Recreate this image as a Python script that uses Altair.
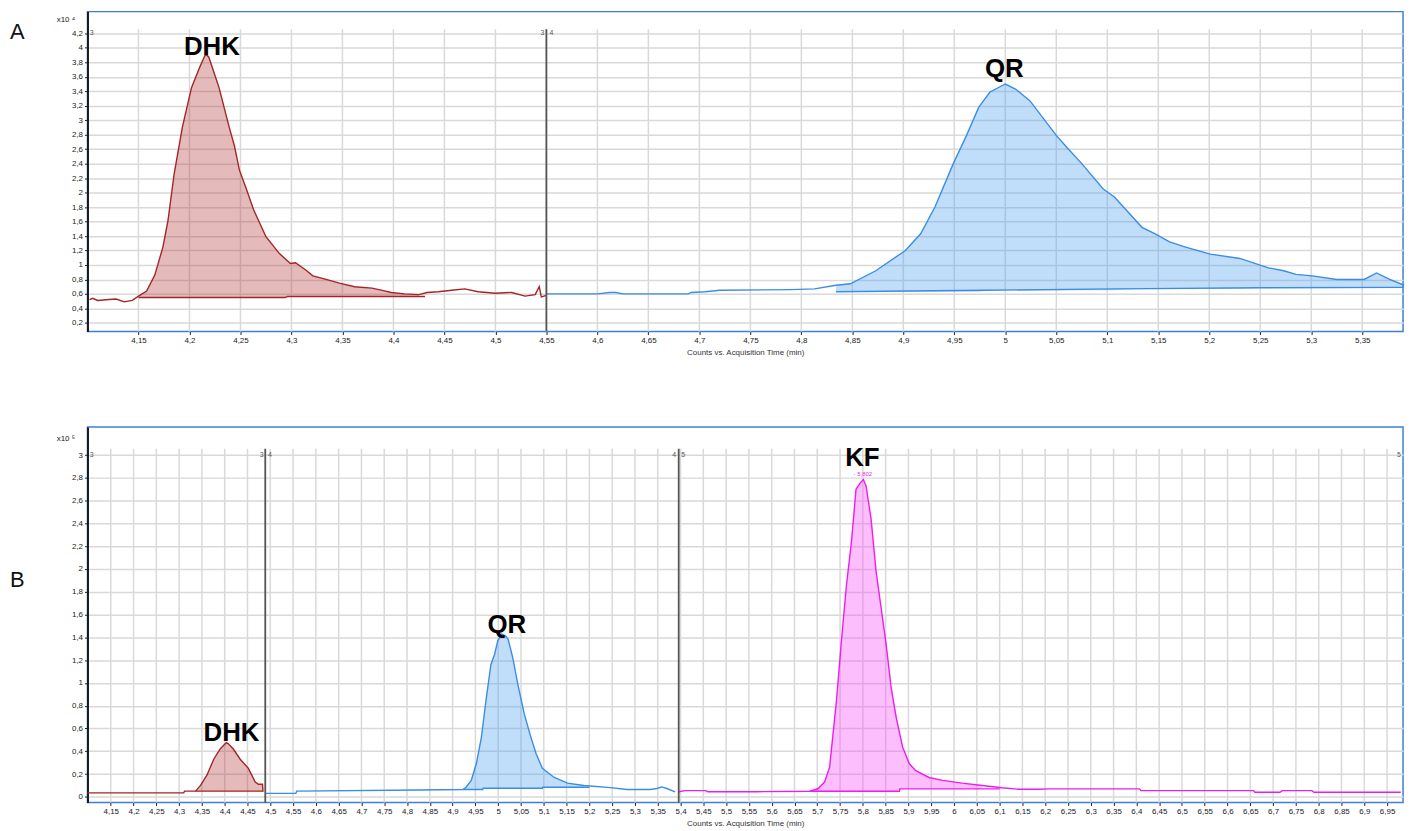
import altair as alt
import pandas as pd

# ---------------- Panel A ----------------
A_DHK_T = [4.102, 4.105, 4.110, 4.118, 4.128, 4.136, 4.144, 4.150, 4.158, 4.166, 4.174, 4.179, 4.185, 4.193,
           4.202, 4.210, 4.215, 4.217, 4.219, 4.229, 4.239, 4.244, 4.249, 4.255, 4.263, 4.275, 4.288, 4.299,
           4.304, 4.314, 4.321, 4.334, 4.347, 4.362, 4.379, 4.389, 4.398, 4.411, 4.425, 4.433, 4.444, 4.457,
           4.470, 4.483, 4.500, 4.516, 4.529, 4.539, 4.543, 4.545, 4.550]
A_DHK_V = [0.52, 0.54, 0.51, 0.52, 0.53, 0.49, 0.51, 0.57, 0.64, 0.86, 1.25, 1.62, 2.26, 2.90,
           3.45, 3.73, 3.89, 3.90, 3.87, 3.45, 2.90, 2.65, 2.31, 2.08, 1.76, 1.39, 1.16, 1.02,
           1.03, 0.93, 0.85, 0.80, 0.75, 0.70, 0.68, 0.65, 0.62, 0.60, 0.59, 0.62, 0.63, 0.65,
           0.67, 0.63, 0.61, 0.62, 0.57, 0.59, 0.70, 0.56, 0.58]
A_DHK_BASE_T = [4.150, 4.294, 4.296, 4.431]
A_DHK_BASE_V = [0.55, 0.55, 0.565, 0.565]

A_QR_T = [4.550, 4.600, 4.612, 4.618, 4.625, 4.689, 4.692, 4.706, 4.720, 4.790, 4.813, 4.834, 4.848,
          4.873, 4.902, 4.917, 4.931, 4.949, 4.962, 4.974, 4.985, 5.000, 5.010, 5.024, 5.050, 5.060,
          5.075, 5.096, 5.107, 5.134, 5.147, 5.161, 5.176, 5.201, 5.230, 5.258, 5.273, 5.285, 5.301,
          5.325, 5.352, 5.364, 5.377, 5.391]
A_QR_V = [0.60, 0.60, 0.62, 0.62, 0.60, 0.60, 0.62, 0.63, 0.65, 0.66, 0.67, 0.72, 0.74,
          0.92, 1.20, 1.43, 1.80, 2.40, 2.79, 3.18, 3.39, 3.50, 3.43, 3.27, 2.79, 2.63,
          2.40, 2.05, 1.94, 1.52, 1.43, 1.32, 1.25, 1.15, 1.09, 0.96, 0.92, 0.87, 0.85,
          0.80, 0.80, 0.89, 0.80, 0.72]
A_QR_BASE_T = [4.834, 4.978, 5.110, 5.250, 5.391]
A_QR_BASE_V = [0.63, 0.65, 0.67, 0.685, 0.69]

A_X_TICKS = [4.15, 4.2, 4.25, 4.3, 4.35, 4.4, 4.45, 4.5, 4.55, 4.6, 4.65, 4.7, 4.75, 4.8, 4.85,
             4.9, 4.95, 5.0, 5.05, 5.1, 5.15, 5.2, 5.25, 5.3, 5.35]
A_Y_TICKS = [0.2, 0.4, 0.6, 0.8, 1.0, 1.2, 1.4, 1.6, 1.8, 2.0, 2.2, 2.4, 2.6, 2.8, 3.0, 3.2, 3.4,
             3.6, 3.8, 4.0, 4.2]
A_PEAK_LABELS = ["DHK", "QR"]
A_PEAK_T = [4.222, 4.999]
A_PEAK_V = [4.01, 3.705]
A_SEG_LABELS = ["3", "3", "4"]
A_SEG_T = [4.104, 4.546, 4.555]
A_DIVIDERS = [4.55]

# ---------------- Panel B ----------------
B_DHK_T = [4.099, 4.310, 4.312, 4.336, 4.347, 4.361, 4.376, 4.390, 4.401, 4.404, 4.408, 4.419, 4.434,
           4.452, 4.467, 4.474, 4.483, 4.484]
B_DHK_V = [0.035, 0.035, 0.05, 0.05, 0.10, 0.19, 0.33, 0.42, 0.465, 0.475, 0.465, 0.42, 0.33,
           0.25, 0.13, 0.11, 0.11, 0.045]
B_DHK_BASE_T = [4.336, 4.484]
B_DHK_BASE_V = [0.05, 0.05]

B_QR_T = [4.490, 4.556, 4.558, 4.825, 4.923, 4.930, 4.941, 4.952, 4.963, 4.974, 4.984, 4.992, 4.999,
          5.008, 5.017, 5.022, 5.032, 5.043, 5.057, 5.072, 5.083, 5.097, 5.123, 5.152, 5.188, 5.246,
          5.282, 5.333, 5.348, 5.359, 5.370, 5.388]
B_QR_V = [0.03, 0.03, 0.05, 0.06, 0.064, 0.087, 0.145, 0.29, 0.52, 0.87, 1.16, 1.25, 1.37,
          1.43, 1.41, 1.38, 1.22, 0.99, 0.73, 0.52, 0.38, 0.25, 0.17, 0.12, 0.10, 0.081,
          0.064, 0.064, 0.073, 0.087, 0.073, 0.044]
B_QR_BASE_T = [4.923, 4.966, 4.967, 5.097, 5.098, 5.200]
B_QR_BASE_V = [0.064, 0.064, 0.076, 0.076, 0.084, 0.084]

B_KF_T = [5.396, 5.410, 5.455, 5.460, 5.567, 5.684, 5.702, 5.716, 5.727, 5.742, 5.753, 5.764, 5.775,
          5.785, 5.793, 5.801, 5.807, 5.818, 5.829, 5.840, 5.851, 5.862, 5.873, 5.887, 5.902, 5.916,
          5.945, 5.975, 6.018, 6.062, 6.105, 6.142, 6.185, 6.210, 6.407, 6.410, 6.657, 6.660, 6.715,
          6.720, 6.785, 6.790, 6.980]
B_KF_V = [0.045, 0.055, 0.055, 0.045, 0.045, 0.049, 0.073, 0.13, 0.26, 0.84, 1.37, 1.86, 2.24,
          2.70, 2.75, 2.785, 2.73, 2.44, 1.98, 1.66, 1.34, 0.96, 0.70, 0.44, 0.29, 0.23,
          0.17, 0.145, 0.12, 0.10, 0.08, 0.067, 0.067, 0.07, 0.07, 0.055, 0.055, 0.04, 0.04,
          0.055, 0.055, 0.04, 0.04]
B_KF_BASE_T = [5.684, 5.880, 5.881, 6.100]
B_KF_BASE_V = [0.049, 0.049, 0.07, 0.07]

B_X_TICKS = [4.15, 4.2, 4.25, 4.3, 4.35, 4.4, 4.45, 4.5, 4.55, 4.6, 4.65, 4.7, 4.75, 4.8, 4.85,
             4.9, 4.95, 5.0, 5.05, 5.1, 5.15, 5.2, 5.25, 5.3, 5.35, 5.4, 5.45, 5.5, 5.55, 5.6,
             5.65, 5.7, 5.75, 5.8, 5.85, 5.9, 5.95, 6.0, 6.05, 6.1, 6.15, 6.2, 6.25, 6.3, 6.35,
             6.4, 6.45, 6.5, 6.55, 6.6, 6.65, 6.7, 6.75, 6.8, 6.85, 6.9, 6.95]
B_Y_TICKS = [0.0, 0.2, 0.4, 0.6, 0.8, 1.0, 1.2, 1.4, 1.6, 1.8, 2.0, 2.2, 2.4, 2.6, 2.8, 3.0]
B_PEAK_LABELS = ["DHK", "QR", "KF"]
B_PEAK_T = [4.415, 5.019, 5.799]
B_PEAK_V = [0.56, 1.51, 2.97]
B_SEG_LABELS = ["3", "3", "4", "4", "5", "5"]
B_SEG_T = [4.108, 4.481, 4.499, 5.386, 5.406, 6.976]
B_DIVIDERS = [4.489, 5.396]

LINE_COLORS = {"DHK": "#a32526", "QR": "#3a8de4", "KF": "#ee1cee"}
FILL_COLORS = {"DHK": "#b53a3a", "QR": "#4aa0ee", "KF": "#f545f5"}

LABEL_EXPR = "replace(format(datum.value, '.2~f'), '.', ',')"
TICK_FONT = "Liberation Sans"


def step_level(bt, bv, t):
    lvl = bv[0]
    for a, b in zip(bt, bv):
        if a <= t:
            lvl = b
    return lvl


def panel(traces, xdom, ydom, xticks, yticks, grid_top, dividers, seg_labels, seg_t, seg_v,
          peak_labels, peak_t, peak_v, letter, letter_y, exp_text, exp_y, height, extra=None):
    xs = alt.Scale(domain=xdom, nice=False, zero=False)
    ys = alt.Scale(domain=ydom, nice=False, zero=False)
    xaxis = alt.Axis(values=xticks, tickCount=200, labelExpr=LABEL_EXPR,
                     title="Counts vs. Acquisition Time (min)",
                     grid=False, domain=False, tickColor="#222", tickSize=3, labelFontSize=8,
                     labelFont=TICK_FONT, labelColor="#222", labelPadding=2, labelOverlap=False,
                     labelFlush=False, titleFontSize=8, titleFontWeight="normal", titleFont=TICK_FONT,
                     titleColor="#333", titlePadding=4)
    yaxis = alt.Axis(values=yticks, tickCount=200, labelExpr=LABEL_EXPR, title=None, grid=True,
                     gridColor="#d9d9d9", gridWidth=1.5, domain=True, domainColor="#1a1a1a",
                     domainWidth=2, tickColor="#222", tickSize=3, labelFontSize=8, labelFont=TICK_FONT,
                     labelColor="#222", labelPadding=2, labelOverlap=False)

    layers = [
        alt.Chart(pd.DataFrame({"t": xticks})).mark_rule(color="#d9d9d9", strokeWidth=1.5).encode(
            x=alt.X("t:Q", scale=xs, axis=xaxis),
            y=alt.Y(datum=ydom[0], type="quantitative", scale=ys, axis=yaxis),
            y2=alt.datum(grid_top),
        )
    ]
    lines = []
    for name, ts, vs, bt, bv in traces:
        lo, hi = bt[0], bt[-1]
        ar = pd.DataFrame([{"t": t, "v": v, "base": step_level(bt, bv, t)}
                           for t, v in zip(ts, vs) if lo <= t <= hi])
        layers.append(alt.Chart(ar).mark_area(color=FILL_COLORS[name], opacity=0.35).encode(
            x=alt.X("t:Q", scale=xs),
            y=alt.Y("v:Q", scale=ys),
            y2=alt.Y2("base:Q"),
        ))
        lines.append(alt.Chart(pd.DataFrame({"t": ts, "v": vs})).mark_line(
            color=LINE_COLORS[name], strokeWidth=1.4).encode(
            x=alt.X("t:Q", scale=xs), y=alt.Y("v:Q", scale=ys)))
        lines.append(alt.Chart(pd.DataFrame({"t": bt, "v": bv})).mark_line(
            color=LINE_COLORS[name], strokeWidth=1.4).encode(
            x=alt.X("t:Q", scale=xs), y=alt.Y("v:Q", scale=ys)))
    layers += lines

    layers.append(alt.Chart(pd.DataFrame({"t": dividers})).mark_rule(color="#555555", strokeWidth=1.8).encode(
        x=alt.X("t:Q", scale=xs),
        y=alt.datum(ydom[0]),
        y2=alt.datum(grid_top),
    ))
    layers.append(alt.Chart(pd.DataFrame({"t": seg_t, "v": [seg_v] * len(seg_t), "s": seg_labels})).mark_text(
        fontSize=7, color="#555", font=TICK_FONT).encode(
        x=alt.X("t:Q", scale=xs), y=alt.Y("v:Q", scale=ys), text="s:N"))
    layers.append(alt.Chart(pd.DataFrame({"t": peak_t, "v": peak_v, "s": peak_labels})).mark_text(
        fontSize=26, fontWeight="bold", font="Liberation Sans", color="#000").encode(
        x=alt.X("t:Q", scale=xs), y=alt.Y("v:Q", scale=ys), text="s:N"))
    layers.append(alt.Chart(pd.DataFrame({"s": [letter]})).mark_text(
        align="left", baseline="middle", fontSize=22, font="Liberation Sans", color="#111").encode(
        x=alt.value(-78), y=alt.value(letter_y), text="s:N"))
    layers.append(alt.Chart(pd.DataFrame({"s": [exp_text]})).mark_text(
        align="left", baseline="middle", fontSize=8, font=TICK_FONT, color="#222").encode(
        x=alt.value(-31), y=alt.value(exp_y), text="s:N"))
    if extra is not None:
        layers.append(extra(xs, ys))
    return alt.layer(*layers).properties(width=1324, height=height)


def kf_tag(xs, ys):
    return alt.Chart(pd.DataFrame({"t": [5.800], "v": [2.83], "s": ["- 5,802"]})).mark_text(
        fontSize=6, color="#ee1cee", font=TICK_FONT).encode(
        x=alt.X("t:Q", scale=xs), y=alt.Y("v:Q", scale=ys), text="s:N")


top = panel(
    [("DHK", A_DHK_T, A_DHK_V, A_DHK_BASE_T, A_DHK_BASE_V),
     ("QR", A_QR_T, A_QR_V, A_QR_BASE_T, A_QR_BASE_V)],
    [4.10, 5.39], [0.08, 4.50], A_X_TICKS, A_Y_TICKS, 4.255, A_DIVIDERS,
    A_SEG_LABELS, A_SEG_T, 4.2, A_PEAK_LABELS, A_PEAK_T, A_PEAK_V,
    "A", 21, "x10 \u2074", 8, 322)

bottom = panel(
    [("DHK", B_DHK_T, B_DHK_V, B_DHK_BASE_T, B_DHK_BASE_V),
     ("QR", B_QR_T, B_QR_V, B_QR_BASE_T, B_QR_BASE_V),
     ("KF", B_KF_T, B_KF_V, B_KF_BASE_T, B_KF_BASE_V)],
    [4.099, 6.985], [-0.05, 3.247], B_X_TICKS, B_Y_TICKS, 3.055, B_DIVIDERS,
    B_SEG_LABELS, B_SEG_T, 3.0, B_PEAK_LABELS, B_PEAK_T, B_PEAK_V,
    "B", 154, "x10 \u2075", 12, 378, extra=kf_tag)

chart = alt.vconcat(top, bottom, spacing=69).properties(
    padding={"left": 1, "top": 0, "right": 0, "bottom": 0}
).configure_view(stroke="#3f7fd6", strokeWidth=1.5)

chart.save("out.html", embed_options={"renderer": "svg", "actions": False})
